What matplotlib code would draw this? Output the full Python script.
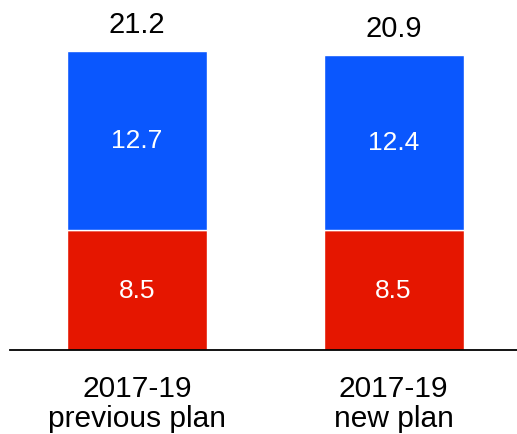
import matplotlib.pyplot as plt

plt.rcParams['font.family'] = ['Liberation Sans', 'DejaVu Sans']

categories = ['2017-19\nprevious plan', '2017-19\nnew plan']
bottom_vals = [8.5, 8.5]
top_vals = [12.7, 12.4]
totals = [21.2, 20.9]

red = '#e51600'
blue = '#0a57fe'

fig = plt.figure(figsize=(5.17, 4.35), dpi=100)
ax = fig.add_axes([10 / 517, 1 - 351 / 435, 507 / 517, 351 / 435])

x = range(len(categories))
ax.bar(x, bottom_vals, width=0.546, color=red, edgecolor='white', linewidth=1)
ax.bar(x, top_vals, width=0.546, bottom=bottom_vals, color=blue, edgecolor='white', linewidth=1)

for i in x:
    ax.text(i, bottom_vals[i] / 2, f'{bottom_vals[i]}', ha='center', va='center',
            color='white', fontsize=19)
    ax.text(i, bottom_vals[i] + top_vals[i] / 2, f'{top_vals[i]}', ha='center', va='center',
            color='white', fontsize=19)
    ax.annotate(f'{totals[i]}', (i, totals[i]), xytext=(0, 13.7), textcoords='offset points',
                ha='center', va='baseline', fontsize=21, color='black')

ax.set_xlim(-0.495, 1.481)
ax.set_ylim(0, 351 / 14.118)
ax.set_xticks(list(x))
ax.set_xticklabels(categories, fontsize=21.5, linespacing=1.1)
ax.tick_params(axis='x', length=0, pad=17)
ax.set_yticks([])
for s in ['top', 'left', 'right']:
    ax.spines[s].set_visible(False)
ax.spines['bottom'].set_linewidth(1.3)
ax.spines['bottom'].set_color('black')

fig.savefig('out.png', dpi=100)
